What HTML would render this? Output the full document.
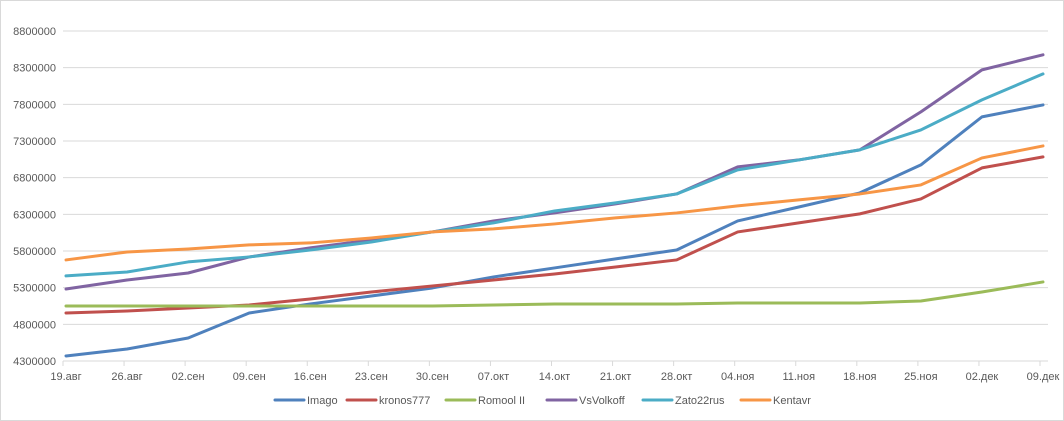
<!DOCTYPE html>
<html><head><meta charset="utf-8"><style>
body{margin:0;background:#fff}
svg{display:block;font-family:"Liberation Sans",sans-serif}
</style></head><body>
<svg id="chart" width="1064" height="421">
<rect x="0.5" y="0.5" width="1063" height="420" fill="#fff" stroke="#d9d9d9"/>
<g id="grid"></g><g id="yax"></g><g id="xax"></g><g id="lines"></g><g id="legend"></g>
</svg>
<script>
const categories=["19.авг","26.авг","02.сен","09.сен","16.сен","23.сен","30.сен","07.окт","14.окт","21.окт","28.окт","04.ноя","11.ноя","18.ноя","25.ноя","02.дек","09.дек"];
const yTicks=[4300000,4800000,5300000,5800000,6300000,6800000,7300000,7800000,8300000,8800000];
const seriesNames=["Imago","kronos777","Romool II","VsVolkoff","Zato22rus","Kentavr"];
const seriesColors=["#4F81BD","#C0504D","#9BBB59","#8064A2","#4BACC6","#F79646"];
const imago=[4368000,4464000,4614000,4955000,5078000,5187000,5296000,5446000,5569000,5692000,5814000,6210000,6400000,6592000,6974000,7629000,7792000];
const kronos=[4955000,4982000,5023000,5064000,5146000,5241000,5323000,5405000,5487000,5582000,5678000,6060000,6183000,6306000,6510000,6933000,7083000];
const romool=[5050000,5050000,5050000,5050000,5050000,5050000,5050000,5064000,5078000,5078000,5078000,5091000,5091000,5091000,5118000,5241000,5378000];
const volkoff=[5282000,5405000,5500000,5719000,5842000,5951000,6060000,6210000,6319000,6442000,6578000,6947000,7042000,7179000,7697000,8270000,8475000];
const zato=[5460000,5514000,5651000,5719000,5814000,5923000,6060000,6183000,6346000,6456000,6578000,6906000,7042000,7179000,7451000,7861000,8215000];
const kentavr=[5678000,5787000,5828000,5883000,5910000,5978000,6060000,6101000,6169000,6251000,6319000,6415000,6497000,6578000,6701000,7069000,7233000];
const allSeries=[imago,kronos,romool,volkoff,zato,kentavr];
const NS="http://www.w3.org/2000/svg";
const yMin=4300000,yMax=8800000,yTop=31,yBot=361,x0=66,x1=1043,gx0=63,gx1=1048;
const y=v=>yBot-(v-yMin)/(yMax-yMin)*(yBot-yTop);
const x=i=>x0+i*(x1-x0)/(categories.length-1);
function mk(t,a,p){const e=document.createElementNS(NS,t);for(const k in a)e.setAttribute(k,a[k]);p.appendChild(e);return e;}
const grid=document.getElementById('grid'),yax=document.getElementById('yax'),xax=document.getElementById('xax'),lines=document.getElementById('lines'),legend=document.getElementById('legend');
yTicks.forEach(v=>{
 const l=mk('line',{x1:gx0,x2:gx1,y1:y(v),y2:y(v),stroke:'#d9d9d9','stroke-width':1},grid);
 
 
 const t=mk('text',{x:56,y:y(v)+4,'text-anchor':'end','font-size':11,fill:'#595959'},yax);
 t.textContent=String(v);
 
 
});
categories.forEach((c,i)=>{
 const tk=mk('line',{x1:x(i)-3,x2:x(i)-3,y1:yBot,y2:yBot+5,stroke:'#d9d9d9'},xax);
 
 
 const t=mk('text',{x:x(i),y:yBot+19,'text-anchor':'middle','font-size':11,fill:'#595959'},xax);
 t.textContent=c;
 
 
});
allSeries.forEach((s,k)=>{
 const p=mk('polyline',{points:s.map((v,i)=>x(i)+','+y(v)).join(' '),fill:'none',stroke:seriesColors[k],'stroke-width':3,'stroke-linejoin':'round','stroke-linecap':'round'},lines);
 
 
});
const legX=[275,347,446,547,643,741];
seriesNames.forEach((n,k)=>{
 const g=mk('g',{},legend);
 
 
 mk('line',{x1:legX[k],x2:legX[k]+29,y1:400,y2:400,stroke:seriesColors[k],'stroke-width':3,'stroke-linecap':'round'},g);
 const t=mk('text',{x:legX[k]+32,y:404,'font-size':11,fill:'#595959'},g);
 t.textContent=n;
});
</script>
</body></html>
